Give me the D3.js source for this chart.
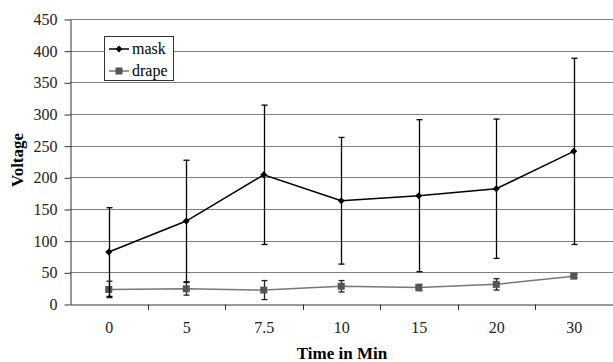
<!DOCTYPE html>
<html><head><meta charset="utf-8">
<script src="https://cdn.jsdelivr.net/npm/d3@7"></script>
<style>body{margin:0;background:#fff}svg{display:block}
svg text{font-family:"Liberation Serif","Times New Roman",Times,serif !important;}</style>
</head><body>
<svg id="c" width="613" height="362"></svg>
<script>
const categories = ["0","5","7.5","10","15","20","30"];
const maskValues = [82, 131, 204, 163, 171, 182, 241];
const maskErrors = [70, 96, 110, 100, 120, 110, 147];
const drapeValues = [23, 24, 22, 28, 26, 31, 44];
const drapeErrors = [13, 10, 15, 9, 5, 9, 3];
const yTicks = [0,50,100,150,200,250,300,350,400,450];

const svg = d3.select("#c");
const m = {left:70};
const x = d3.scaleBand().domain(categories).range([m.left, 612.5]);
const y = d3.scaleLinear().domain([0,450]).range([304, 19]);
const font = "Liberation Serif";

// gridlines
svg.append("g").selectAll("line").data(yTicks.slice(1)).join("line")
  .attr("x1", m.left).attr("x2", 613)
  .attr("y1", d=>Math.round(y(d))+0.5).attr("y2", d=>Math.round(y(d))+0.5)
  .attr("stroke","#808080").attr("stroke-width",1);

// y axis
const ya = svg.append("g").attr("transform",`translate(${m.left+0.5},0.5)`)
  .call(d3.axisLeft(y).tickValues(yTicks).tickSize(6).tickPadding(7).tickSizeOuter(0));
ya.select(".domain").attr("stroke","#333");
ya.selectAll(".tick line").attr("stroke","#333");
ya.selectAll("text").attr("font-family",font).attr("font-size",16).attr("fill","#222");

// x axis
const xa = svg.append("g").attr("transform",`translate(0.5,${304.5})`)
  .call(d3.axisBottom(x).tickSize(0).tickPadding(17).tickSizeOuter(0));
xa.select(".domain").attr("stroke","#333");
xa.selectAll("text").attr("font-family",font).attr("font-size",16).attr("fill","#222");
const bounds = categories.slice(1).map(c=>x(c));
svg.append("g").selectAll("line").data(bounds).join("line")
  .attr("x1",d=>Math.round(d)+0.5).attr("x2",d=>Math.round(d)+0.5)
  .attr("y1",304.5).attr("y2",310).attr("stroke","#333");

const cx = c => x(c) + x.bandwidth()/2;

// titles
svg.append("text").attr("x", 342).attr("y", 359).attr("text-anchor","middle")
  .attr("font-family",font).attr("font-weight","bold").attr("font-size",17).text("Time in Min");
svg.append("text").attr("transform","translate(23,160) rotate(-90)").attr("text-anchor","middle")
  .attr("font-family",font).attr("font-weight","bold").attr("font-size",17).text("Voltage");

function series(vals, errs, lineColor, errColor, marker, markColor){
  const g = svg.append("g");
  vals.forEach((v,i)=>{
    const px = Math.round(cx(categories[i]))+0.5;
    const t = y(v+errs[i]), b = y(Math.max(0,v-errs[i]));
    g.append("line").attr("x1",px).attr("x2",px).attr("y1",t).attr("y2",b).attr("stroke",errColor).attr("stroke-width",1.3);
    [t,b].forEach(yy=>g.append("line").attr("x1",px-3).attr("x2",px+3).attr("y1",yy).attr("y2",yy).attr("stroke",errColor).attr("stroke-width",1.3));
  });
  g.append("path").datum(vals)
    .attr("d", d3.line().x((d,i)=>cx(categories[i])).y(d=>y(d)))
    .attr("fill","none").attr("stroke",lineColor).attr("stroke-width",1.5);
  vals.forEach((v,i)=>{
    const px = cx(categories[i]), py = y(v);
    if(marker==="diamond"){
      g.append("path").attr("d",`M${px},${py-3.5}L${px+3.5},${py}L${px},${py+3.5}L${px-3.5},${py}Z`).attr("fill",markColor);
    } else {
      g.append("rect").attr("x",px-3.5).attr("y",py-3.5).attr("width",7).attr("height",7).attr("fill",markColor);
    }
  });
}
series(drapeValues, drapeErrors, "#777", "#222", "square", "#555");
series(maskValues, maskErrors, "#000", "#000", "diamond", "#000");

// legend
const lg = svg.append("g");
lg.append("rect").attr("x",104.5).attr("y",36.5).attr("width",69).attr("height",44)
  .attr("fill","#fff").attr("stroke","#333");
const items = [["mask","#000","diamond","#000"],["drape","#777","square","#555"]];
items.forEach((it,i)=>{
  const yy = 49 + i*22;
  lg.append("line").attr("x1",109).attr("x2",129).attr("y1",yy).attr("y2",yy).attr("stroke",it[1]).attr("stroke-width",1.5);
  if(it[2]==="diamond") lg.append("path").attr("d",`M119,${yy-3.5}L122.5,${yy}L119,${yy+3.5}L115.5,${yy}Z`).attr("fill",it[3]);
  else lg.append("rect").attr("x",115.5).attr("y",yy-3.5).attr("width",7).attr("height",7).attr("fill",it[3]);
  lg.append("text").attr("x",132).attr("y",yy+5).attr("font-family",font).attr("font-size",16).text(it[0]);
});
</script>
</body></html>
